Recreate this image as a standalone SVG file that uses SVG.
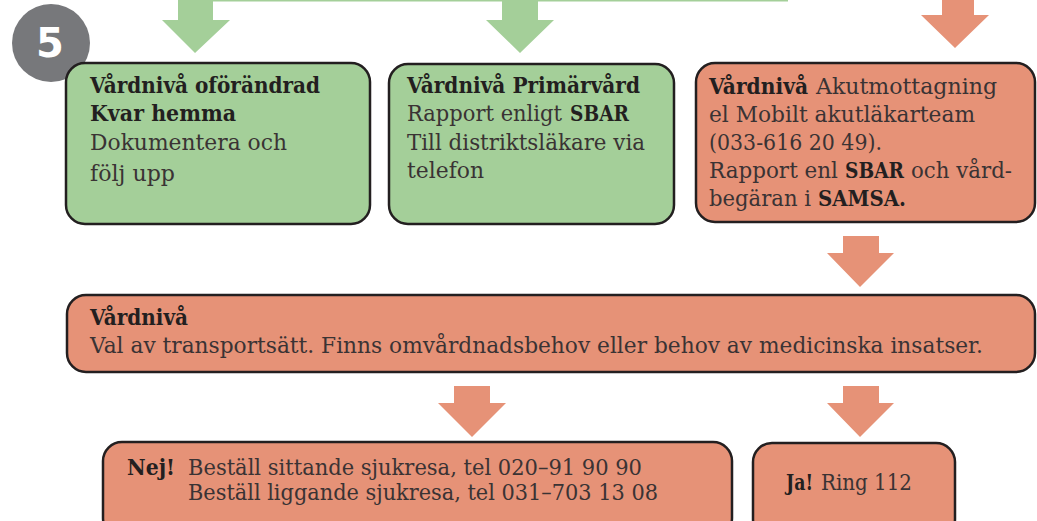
<svg xmlns="http://www.w3.org/2000/svg" width="1037" height="521" viewBox="0 0 1037 521">
<style>
.g{fill:#a4cf99}
.o{fill:#e69277}
.box{stroke:#231f20;stroke-width:2.5}
.t{font-family:"DejaVu Serif","Liberation Serif",serif;font-size:22.5px;fill:#3a3334}
.b{font-weight:bold;fill:#231f20}
</style>
<rect width="1037" height="521" fill="#ffffff"/>
<g id="connectors">
<rect class="g" x="178" y="-10" width="610" height="11.5"/>
<polygon class="g" points="178,0 213,0 213,20 230,20 195,53 162,20 178,20"/>
<polygon class="g" points="502,0 538,0 538,20 554,20 520,53 486,20 502,20"/>
<polygon class="o" points="942,0 974,0 974,15 989,15 955,48 921,15 942,15"/>
<polygon class="o" points="843,236 879,236 879,253 894,253 860,287 827,253 843,253"/>
<polygon class="o" points="454,386 490,386 490,403 506,403 472,437 438,403 454,403"/>
<polygon class="o" points="843,386 879,386 879,403 894,403 860,437 827,403 843,403"/>
</g>
<g id="step5">
<circle cx="51" cy="43" r="39" fill="#77787b"/>
<text x="50" y="57" text-anchor="middle" font-family="'DejaVu Sans','Liberation Sans',sans-serif" font-weight="bold" font-size="40" fill="#ffffff">5</text>
</g>
<g id="node-oforandrad">
<rect class="g box" x="66" y="63" width="304" height="161" rx="19"/>
<text class="t b" x="90" y="93" textLength="230" lengthAdjust="spacingAndGlyphs">Vårdnivå oförändrad</text>
<text class="t b" x="90" y="121" textLength="146" lengthAdjust="spacingAndGlyphs">Kvar hemma</text>
<text class="t" x="90" y="150" textLength="197" lengthAdjust="spacingAndGlyphs">Dokumentera och</text>
<text class="t" x="90" y="181" textLength="85" lengthAdjust="spacingAndGlyphs">följ upp</text>
</g>
<g id="node-primarvard">
<rect class="g box" x="389" y="64" width="285" height="160" rx="19"/>
<text class="t b" x="407" y="93" textLength="233" lengthAdjust="spacingAndGlyphs">Vårdnivå Primärvård</text>
<text class="t" x="407" y="121" textLength="155" lengthAdjust="spacingAndGlyphs">Rapport enligt</text>
<text class="t b" x="570" y="121" textLength="59" lengthAdjust="spacingAndGlyphs">SBAR</text>
<text class="t" x="407" y="150" textLength="238" lengthAdjust="spacingAndGlyphs">Till distriktsläkare via</text>
<text class="t" x="407" y="178" textLength="77" lengthAdjust="spacingAndGlyphs">telefon</text>
</g>
<g id="node-akut">
<rect class="o box" x="696" y="63" width="339" height="159" rx="19"/>
<text class="t b" x="709" y="94" textLength="99" lengthAdjust="spacingAndGlyphs">Vårdnivå</text>
<text class="t" x="816" y="94" textLength="181" lengthAdjust="spacingAndGlyphs">Akutmottagning</text>
<text class="t" x="709" y="122" textLength="266" lengthAdjust="spacingAndGlyphs">el Mobilt akutläkarteam</text>
<text class="t" x="709" y="150" textLength="173" lengthAdjust="spacingAndGlyphs">(033-616 20 49).</text>
<text class="t" x="709" y="178" textLength="129" lengthAdjust="spacingAndGlyphs">Rapport enl</text>
<text class="t b" x="845" y="178" textLength="59" lengthAdjust="spacingAndGlyphs">SBAR</text>
<text class="t" x="911" y="178" textLength="101" lengthAdjust="spacingAndGlyphs">och vård-</text>
<text class="t" x="709" y="206" textLength="102" lengthAdjust="spacingAndGlyphs">begäran i</text>
<text class="t b" x="818" y="206" textLength="88" lengthAdjust="spacingAndGlyphs">SAMSA.</text>
</g>
<g id="node-transport">
<rect class="o box" x="67" y="295" width="968" height="77" rx="19"/>
<text class="t b" x="90" y="325" textLength="98" lengthAdjust="spacingAndGlyphs">Vårdnivå</text>
<text class="t" x="90" y="353" textLength="893" lengthAdjust="spacingAndGlyphs">Val av transportsätt. Finns omvårdnadsbehov eller behov av medicinska insatser.</text>
</g>
<g id="node-nej">
<rect class="o box" x="103" y="442" width="629" height="95" rx="19"/>
<text class="t b" x="127" y="475" textLength="48" lengthAdjust="spacingAndGlyphs">Nej!</text>
<text class="t" x="188" y="475" textLength="454" lengthAdjust="spacingAndGlyphs">Beställ sittande sjukresa, tel 020–91 90 90</text>
<text class="t" x="188" y="500" textLength="470" lengthAdjust="spacingAndGlyphs">Beställ liggande sjukresa, tel 031–703 13 08</text>
</g>
<g id="node-ja">
<rect class="o box" x="753" y="443" width="202" height="95" rx="19"/>
<text class="t b" x="786" y="490" textLength="27" lengthAdjust="spacingAndGlyphs">Ja!</text>
<text class="t" x="821" y="490" textLength="91" lengthAdjust="spacingAndGlyphs">Ring 112</text>
</g>
</svg>
